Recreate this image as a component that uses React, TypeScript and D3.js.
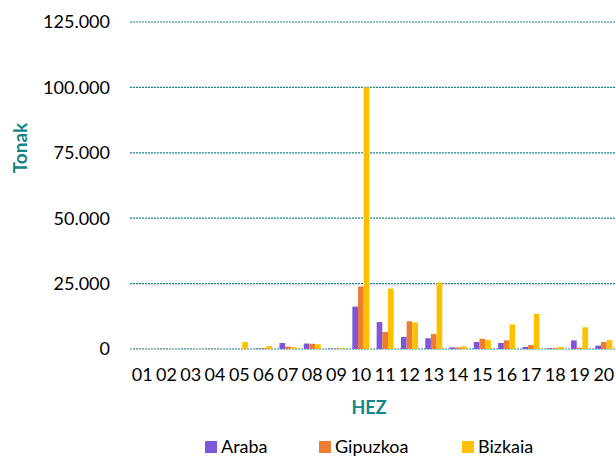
import * as d3 from 'd3'

const W = 616
const H = 457
const MARGIN = { top: 22, right: 0, bottom: 108, left: 130 }

const categories = ['01', '02', '03', '04', '05', '06', '07', '08', '09', '10', '11', '12', '13', '14', '15', '16', '17', '18', '19', '20']
const seriesNames = ['Araba', 'Gipuzkoa', 'Bizkaia']
const araba = [100, 100, 100, 100, 0, 200, 2300, 2100, 200, 16200, 10300, 4600, 4100, 600, 2700, 2300, 800, 300, 3300, 1300]
const gipuzkoa = [100, 100, 100, 100, 0, 300, 900, 2000, 200, 23900, 6500, 10600, 5700, 600, 3900, 3300, 1500, 300, 500, 2700]
const bizkaia = [100, 100, 100, 100, 2700, 1100, 700, 1800, 300, 100000, 23100, 10200, 25400, 1000, 3400, 9400, 13400, 800, 8300, 3400]
const yTicks = [0, 25000, 50000, 75000, 100000, 125000]
const colors = ['#7f56d9', '#ed7d31', '#ffc000']
const TEAL = '#138585'
const FONT = 'Lato, "Open Sans", sans-serif'

const fmt = (v: number) => (v === 0 ? '0' : d3.format(',')(v).replace(/,/g, '.'))

export default function App() {
  const series = [araba, gipuzkoa, bizkaia]
  const plotH = H - MARGIN.top - MARGIN.bottom

  const x = d3.scaleBand<string>()
    .domain(categories)
    .range([MARGIN.left, W - MARGIN.right])
    .paddingInner(0.3)
    .paddingOuter(0.15)

  const xs = d3.scaleBand<string>()
    .domain(seriesNames)
    .range([0, x.bandwidth()])

  const y = d3.scaleLinear()
    .domain([0, 125000])
    .range([MARGIN.top + plotH, MARGIN.top])

  const legendX = [205, 319, 462]

  return (
    <svg width={W} height={H} style={{ position: 'absolute', left: 0, top: 0, background: '#fff' }}>
      {/* Grid lines */}
      {yTicks.map(t => (
        <line key={t} x1={MARGIN.left} x2={W - MARGIN.right} y1={y(t)} y2={y(t)}
          stroke={TEAL} strokeWidth={1.2} strokeDasharray="2,1" />
      ))}
      {yTicks.map(t => (
        <text key={'l' + t} x={110} y={y(t)} dy="0.35em" textAnchor="end"
          fontFamily={FONT} fontSize={18} fill="#000">{fmt(t)}</text>
      ))}

      {/* Bars */}
      {categories.map((c, i) => (
        <g key={c} transform={`translate(${x(c)},0)`}>
          {series.map((s, k) => (
            <rect key={k} x={xs(seriesNames[k])} width={xs.bandwidth()}
              y={y(s[i])} height={y(0) - y(s[i])} fill={colors[k]} />
          ))}
        </g>
      ))}

      {/* X labels */}
      {categories.map(c => (
        <text key={'x' + c} x={(x(c) ?? 0) + x.bandwidth() / 2} y={381} textAnchor="middle"
          fontFamily={FONT} fontSize={18} fill="#000">{c}</text>
      ))}

      <text x={369} y={414} textAnchor="middle" fontFamily={FONT} fontSize={18}
        fontWeight="bold" fill={TEAL}>HEZ</text>
      <text transform={`translate(27,${148}) rotate(-90)`} textAnchor="middle"
        fontFamily={FONT} fontSize={19} fontWeight="bold" fill={TEAL}>Tonak</text>

      {/* Legend */}
      {seriesNames.map((n, k) => (
        <g key={n} transform={`translate(${legendX[k]},441)`}>
          <rect width={12} height={12} fill={colors[k]} />
          <text x={16} y={12} fontFamily={FONT} fontSize={18} fill="#000">{n}</text>
        </g>
      ))}
    </svg>
  )
}
